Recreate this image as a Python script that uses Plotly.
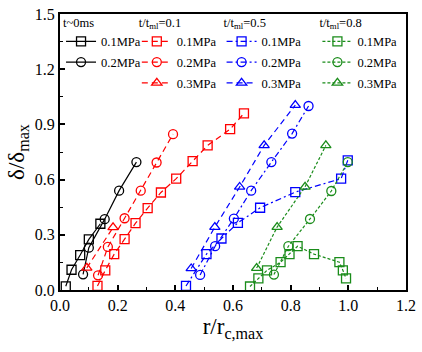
import plotly.graph_objects as go

# ---- data ----
t0_p1_x = [0.02, 0.04, 0.07, 0.10, 0.14]
t0_p1_y = [0.02, 0.11, 0.19, 0.275, 0.36]
t0_p2_x = [0.08, 0.10, 0.155, 0.205, 0.265]
t0_p2_y = [0.085, 0.23, 0.385, 0.54, 0.695]

t01_p1_x = [0.13, 0.157, 0.188, 0.224, 0.262, 0.304, 0.35, 0.403, 0.46, 0.512, 0.59, 0.638]
t01_p1_y = [0.022, 0.107, 0.195, 0.277, 0.363, 0.445, 0.53, 0.605, 0.70, 0.786, 0.874, 0.96]
t01_p2_x = [0.132, 0.166, 0.224, 0.28, 0.335, 0.392]
t01_p2_y = [0.08, 0.234, 0.39, 0.54, 0.693, 0.847]
t01_p3_x = [0.093, 0.184]
t01_p3_y = [0.12, 0.34]

t05_p1_x = [0.437, 0.508, 0.56, 0.617, 0.694, 0.816, 0.975, 0.998]
t05_p1_y = [0.022, 0.195, 0.28, 0.365, 0.447, 0.532, 0.605, 0.705]
t05_p2_x = [0.486, 0.538, 0.603, 0.663, 0.733, 0.805, 0.862]
t05_p2_y = [0.082, 0.238, 0.388, 0.54, 0.695, 0.85, 1.0]
t05_p3_x = [0.455, 0.537, 0.623, 0.708, 0.816]
t05_p3_y = [0.117, 0.342, 0.56, 0.786, 1.005]

t08_p1_x = [0.659, 0.688, 0.718, 0.765, 0.796, 0.824, 0.881, 0.969, 0.981, 0.992]
t08_p1_y = [0.019, 0.063, 0.107, 0.151, 0.195, 0.238, 0.195, 0.151, 0.107, 0.063]
t08_p2_x = [0.742, 0.792, 0.867, 0.941, 0.998]
t08_p2_y = [0.084, 0.238, 0.386, 0.538, 0.695]
t08_p3_x = [0.682, 0.753, 0.85, 0.922]
t08_p3_y = [0.119, 0.342, 0.561, 0.786]

x_ticks = [0.0, 0.2, 0.4, 0.6, 0.8, 1.0, 1.2]
y_ticks = [0.0, 0.3, 0.6, 0.9, 1.2, 1.5]

BLACK = "#000000"
RED = "#ff0000"
BLUE = "#0000ff"
GREEN = "#1a8c1a"
FONT = "Liberation Serif"

series = [
    (t0_p1_x, t0_p1_y, "0.1MPa", BLACK, "solid", "square-open", "legend"),
    (t0_p2_x, t0_p2_y, "0.2MPa", BLACK, "solid", "circle-open", "legend"),
    (t01_p1_x, t01_p1_y, "0.1MPa", RED, "6px,4px", "square-open", "legend2"),
    (t01_p2_x, t01_p2_y, "0.2MPa", RED, "6px,4px", "circle-open", "legend2"),
    (t01_p3_x, t01_p3_y, "0.3MPa", RED, "6px,4px", "triangle-up-open", "legend2"),
    (t05_p1_x, t05_p1_y, "0.1MPa", BLUE, "6px,3px,2px,3px", "square-open", "legend3"),
    (t05_p2_x, t05_p2_y, "0.2MPa", BLUE, "6px,3px,2px,3px", "circle-open", "legend3"),
    (t05_p3_x, t05_p3_y, "0.3MPa", BLUE, "6px,4px", "triangle-up-open", "legend3"),
    (t08_p1_x, t08_p1_y, "0.1MPa", GREEN, "3px,2px", "square-open", "legend4"),
    (t08_p2_x, t08_p2_y, "0.2MPa", GREEN, "3px,2px", "circle-open", "legend4"),
    (t08_p3_x, t08_p3_y, "0.3MPa", GREEN, "3px,2px", "triangle-up-open", "legend4"),
]

fig = go.Figure()
for i, (xs, ys, name, col, dash, sym, lg) in enumerate(series):
    fig.add_trace(go.Scatter(
        x=xs, y=ys, name=name, mode="lines+markers",
        line=dict(color=col, width=1.2, dash=dash),
        marker=dict(symbol=sym, size=9, color=col, line=dict(width=1.3, color=col)),
        legend=lg, legendgroup=f"g{i}",
    ))

leg_font = dict(family=FONT, size=12.5, color="black")
leg_common = dict(
    bgcolor="rgba(0,0,0,0)", borderwidth=0, font=leg_font,
    xanchor="left", yanchor="top", tracegroupgap=1.5, itemwidth=30,
)
fig.update_layout(
    legend=dict(x=0.003, y=1.013, title=dict(text="t~0ms", font=leg_font), **leg_common),
    legend2=dict(x=0.222, y=1.013, title=dict(text="t/t<sub>ml</sub>=0.1", font=leg_font), **leg_common),
    legend3=dict(x=0.467, y=1.013, title=dict(text="t/t<sub>ml</sub>=0.5", font=leg_font), **leg_common),
    legend4=dict(x=0.744, y=1.013, title=dict(text="t/t<sub>ml</sub>=0.8", font=leg_font), **leg_common),
)

axis_common = dict(
    showline=True, linecolor="black", linewidth=2, mirror=True,
    ticks="inside", ticklen=5, tickwidth=1.5, tickcolor="black",
    showgrid=False, zeroline=False, ticklabeloverflow="allow",
    tickfont=dict(family=FONT, size=16, color="black"),
)
fig.update_xaxes(
    range=[0, 1.2], tickvals=x_ticks, ticktext=[f"{v:.1f}" for v in x_ticks],
    minor=dict(ticks="inside", ticklen=3, dtick=0.1, tickcolor="black", tickwidth=1.2),
    title=dict(text="r/r<sub>c,max</sub>", font=dict(family=FONT, size=23, color="black"), standoff=2),
    **axis_common,
)
fig.update_yaxes(
    range=[0, 1.5], tickvals=y_ticks, ticktext=[f"{v:.1f}" for v in y_ticks],
    minor=dict(ticks="inside", ticklen=3, dtick=0.15, tickcolor="black", tickwidth=1.2),
    title=dict(text="δ/δ<sub>max</sub>", font=dict(family=FONT, size=23, color="black"), standoff=4),
    **axis_common,
)
fig.update_layout(
    width=422, height=352,
    margin=dict(l=60, r=10, t=6, b=62),
    plot_bgcolor="white", paper_bgcolor="white",
    showlegend=True,
)
fig.write_html("out.html", config={"displayModeBar": False},
               post_script="document.body.style.margin='0';")
